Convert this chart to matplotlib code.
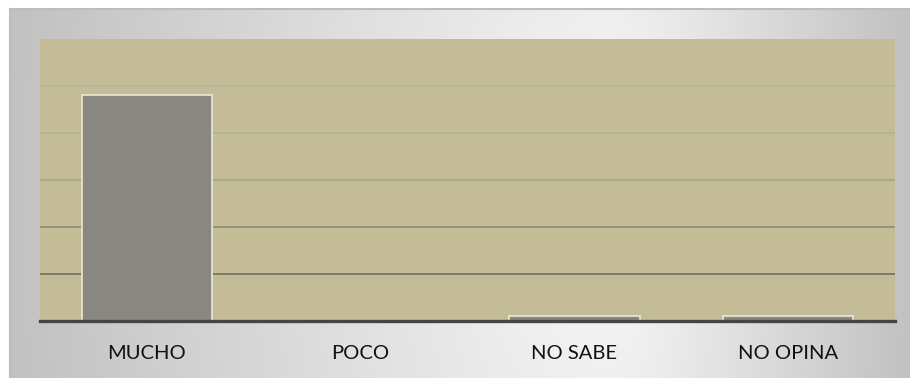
import numpy as np
import matplotlib.pyplot as plt
from matplotlib.colors import LinearSegmentedColormap

# Survey answers (percent)
categorias = ['MUCHO', 'POCO', 'NO SABE', 'NO OPINA']
porcentajes = [96, 0, 2, 2]
y_max = 120
y_step = 20

W, H = 910, 378
fig = plt.figure(figsize=(W / 100, H / 100), dpi=100)
fig.patch.set_facecolor('white')

# grey frame with a light band around the right-center
bg = fig.add_axes([10 / W, 0, 900 / W, 369 / H])
xs = np.linspace(0, 900, 450)
ys = np.linspace(0, 369, 185)
gx, gy = np.meshgrid(xs, ys)
cx, cy = 600, 200
tx = np.where(gx < cx, (cx - gx) / cx, (gx - cx) / (900 - cx))
ty = np.abs(gy - cy) / 369
t = np.clip(np.sqrt(tx ** 2 + 0.12 * ty ** 2), 0, 1)
grad = LinearSegmentedColormap.from_list('frame', ['#f8f8f8', '#c2c2c2'])
bg.imshow(t, cmap=grad, aspect='auto', extent=[0, 900, 369, 0], vmin=0, vmax=1)
bg.set_xticks([])
bg.set_yticks([])
for side in ['right', 'bottom']:
    bg.spines[side].set_visible(False)
for side in ['top', 'left']:
    bg.spines[side].set_color('#bdbdbd')
    bg.spines[side].set_linewidth(1.5)

ax = fig.add_axes([40 / W, (H - 321) / H, 855 / W, 282 / H])
ax.set_facecolor('#c4bc97')

# gridlines fade from light at the top to darker near the base
grid_colors = ['#b9b5a0', '#b2b09a', '#a6a48e', '#8e8c78', '#6f6f60']
for i, v in enumerate(range(y_step * 5, 0, -y_step)):
    ax.axhline(v, color=grid_colors[i], linewidth=1.2, zorder=1)

x = np.arange(len(categorias))
ax.bar(x, porcentajes, width=0.61, color='#888782', edgecolor='#ece8d4',
       linewidth=1.2, zorder=2)

ax.set_xlim(-0.5, len(categorias) - 0.5)
ax.set_ylim(0, y_max)
ax.set_yticks([])
ax.set_xticks(x)
ax.set_xticklabels(categorias, fontsize=14.5, family='Lato', color='#111111')
ax.tick_params(axis='x', length=0, pad=17)

for side in ['top', 'left', 'right']:
    ax.spines[side].set_visible(False)
ax.spines['bottom'].set_color('#454545')
ax.spines['bottom'].set_linewidth(2.4)
ax.spines['bottom'].set_zorder(3)

fig.savefig('out.png', dpi=100)
